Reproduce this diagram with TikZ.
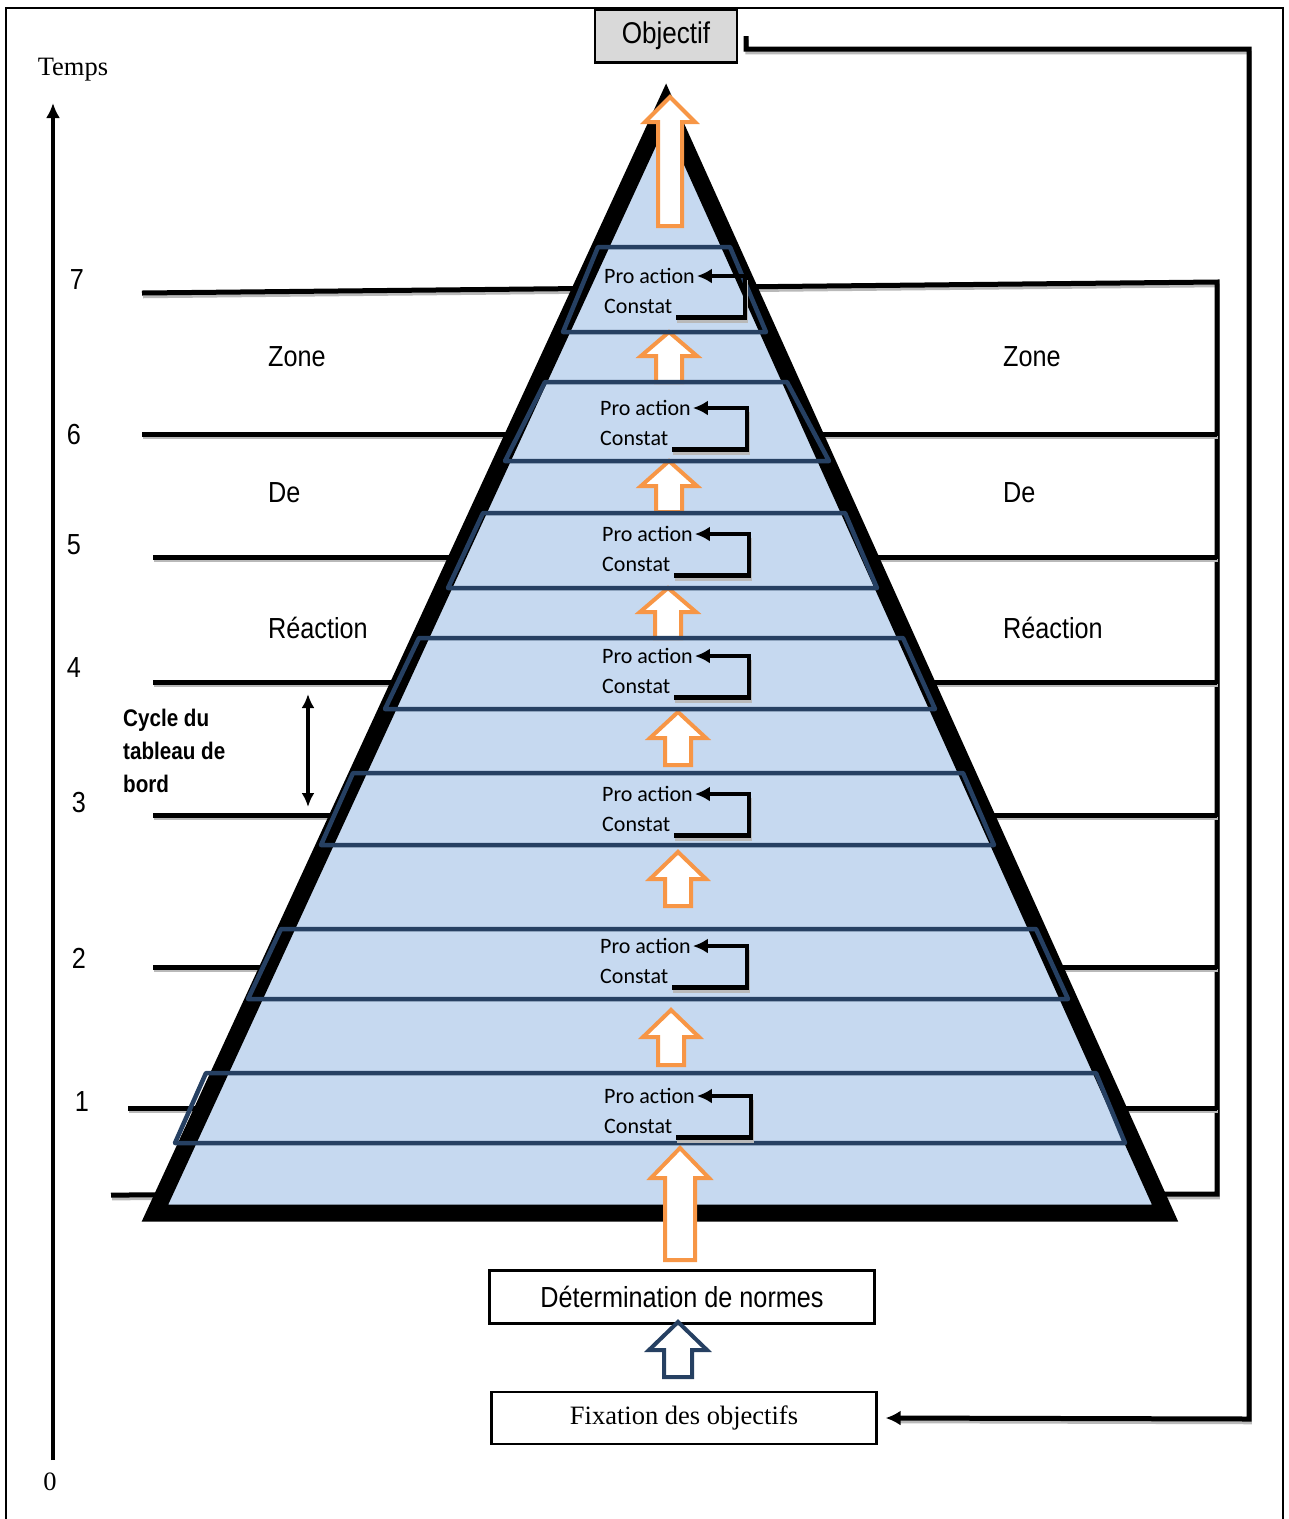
\documentclass[tikz,border=0pt]{standalone}
\usepackage{fontspec}
\setmainfont{Liberation Serif}
\newfontfamily\nsans[FakeStretch=0.87]{Liberation Sans}
\newfontfamily\nbold[FakeStretch=0.86]{Liberation Sans}
\newfontfamily\calib{Carlito}
\usetikzlibrary{arrows.meta}
\definecolor{pyrblue}{HTML}{C6D9F0}
\definecolor{bandnavy}{RGB}{38,64,98}
\definecolor{orng}{HTML}{F79646}
\definecolor{boxgray}{HTML}{D9D9D9}
\newcommand{\blockup}[7]{%
  \draw[line width=4, draw=#7, fill=white, line join=miter]
  (#1,#2) -- (#1+#5,#4) -- (#1+#6,#4) -- (#1+#6,#3) -- (#1-#6,#3) -- (#1-#6,#4) -- (#1-#5,#4) -- cycle;}
\newcommand{\shline}[1]{%
  \draw[shadowst] #1;
  \draw[lvl] #1;}
\begin{document}
\begin{tikzpicture}[x=1pt,y=-1pt,
  lvl/.style={line width=5, draw=black, line join=miter},
  shadowst/.style={line width=3.5, draw=gray!55, line join=miter, transform canvas={shift={(1pt,-3.5pt)}}},
  band/.style={line width=4.5, draw=bandnavy, line join=round},
  fb/.style={line width=4.5, draw=black, line join=miter, -{Latex[length=15pt,width=15pt]}},
  conn/.style={line width=5, draw=black, line join=miter},
  bigtxt/.style={font=\nsans\fontsize{29}{34}\selectfont, inner sep=0},
  numtxt/.style={font=\nsans\fontsize{29}{34}\selectfont, inner sep=0},
  smtxt/.style={font=\calib\fontsize{22}{26}\selectfont, inner sep=1, anchor=west},
  boxst/.style={draw=black, line width=2.2, minimum height=53, inner sep=0}
]
\useasboundingbox (0,0) rectangle (1289,1519);
% outer frame
\draw[line width=1.8] (6,1530) -- (6,8) -- (1283,8) -- (1283,1530);

% level lines (behind the pyramid)
\shline{(142,293) -- (1217,282) -- (1217,1194) -- (111,1195)}
\shline{(142,434) -- (1217,434)}
\shline{(153,557) -- (1217,557)}
\shline{(153,682) -- (1217,682)}
\shline{(153,815) -- (1217,815)}
\shline{(153,967) -- (1217,967)}
\shline{(128,1108) -- (1217,1108)}

% pyramid
\draw[line width=17, line join=miter, fill=pyrblue] (666,104) -- (155,1213) -- (1165,1213) -- cycle;

% orange block arrows
\blockup{670}{97}{226}{122}{25}{12}{orng}
\blockup{669}{332}{382}{356}{28}{13}{orng}
\blockup{669}{461}{512}{486}{28}{13}{orng}
\blockup{668}{588}{638}{612}{28}{13}{orng}
\blockup{678}{712}{765}{738}{28}{13}{orng}
\blockup{678}{852}{906}{879}{28}{13}{orng}
\blockup{671}{1010}{1065}{1037}{28}{13}{orng}
\blockup{680}{1148}{1260}{1178}{29}{15}{orng}

% bands
\draw[band] (598,247) -- (730,247) -- (766,332) -- (563,332) -- cycle;
\draw[band] (545,382) -- (787,382) -- (829,461) -- (505,461) -- cycle;
\draw[band] (483,513) -- (845,513) -- (877,588) -- (448,588) -- cycle;
\draw[band] (419,638) -- (903,638) -- (935,709) -- (385,709) -- cycle;
\draw[band] (353,773) -- (963,773) -- (994,845) -- (321,845) -- cycle;
\draw[band] (281,929) -- (1036,929) -- (1068,999) -- (248,999) -- cycle;
\draw[band] (206,1073) -- (1096,1073) -- (1125,1143) -- (175,1143) -- cycle;

% texts and feedback loops in bands
\foreach \i/\lx/\py/\cy/\rx in {1/604/276/306/745, 2/600/408/438/747, 3/602/534/564/749, 4/602/656/686/749, 5/602/794/824/749, 6/600/946/976/747, 7/604/1096/1126/751}{
  \node[smtxt] (pa\i) at (\lx-1,\py) {Pro action};
  \node[smtxt] (ct\i) at (\lx-1,\cy) {Constat};
  \draw[shadowst] ([xshift=3pt,yshift=-3pt]ct\i.south east) -| (\rx,\py);
  \draw[fb] ([xshift=3pt,yshift=-3pt]ct\i.south east) -| (\rx,\py) -- ([xshift=1pt]pa\i.east);
}

% zone labels
\node[bigtxt, anchor=west] (zl1) at (268,357) {Zone};
\node[bigtxt, anchor=west] (zl2) at (268,493) {De};
\node[bigtxt, anchor=west] (zl3) at (268,628) {Réaction};
\node[bigtxt, anchor=west] (zr1) at (1003,357) {Zone};
\node[bigtxt, anchor=west] (zr2) at (1003,493) {De};
\node[bigtxt, anchor=west] (zr3) at (1003,628) {Réaction};

% boxes
\node[boxst, fill=boxgray, minimum width=142, font=\nsans\fontsize{30}{34}\selectfont] (obj) at (666,36) {Objectif};
\node[boxst, minimum width=385, font=\nsans\fontsize{29}{34}\selectfont] (det) at (682,1297) {Détermination de normes};
\node[boxst, minimum width=385, minimum height=52, font=\fontsize{26.5}{30}\selectfont] (fix) at (684,1418) {Fixation des objectifs};
\blockup{678}{1322}{1377}{1350}{29}{14}{bandnavy}

% feedback from objective to fixation
\draw[shadowst] ([xshift=8pt]obj.east) -- ++(0,13) -| (1249,1419) -- ([xshift=20pt]fix.east);
\draw[conn, -{Latex[length=15pt,width=15pt]}] ([xshift=8pt]obj.east) -- ++(0,13) -| (1249,1419) -- ([xshift=8pt]fix.east);

% time axis
\coordinate (t0) at (53,1460);
\coordinate (tt) at (53,103);
\draw[line width=4.5, -{Latex[length=15pt,width=14pt]}] (t0) -- (tt);
\node[font=\fontsize{26.5}{30}\selectfont, inner sep=0] (temps) at (73,70) {Temps};
\node[font=\fontsize{26.5}{30}\selectfont, inner sep=0] (n0) at (50,1482) {0};
\node[numtxt] (n7) at (77,280) {7};
\node[numtxt] (n6) at (74,435) {6};
\node[numtxt] (n5) at (74,545) {5};
\node[numtxt] (n4) at (74,668) {4};
\node[numtxt] (n3) at (79,803) {3};
\node[numtxt] (n2) at (79,958) {2};
\node[numtxt] (n1) at (82,1102) {1};

% cycle
\coordinate (cyA) at (308,694);
\coordinate (cyB) at (308,807);
\draw[line width=4, {Latex[length=14pt,width=13pt]}-{Latex[length=14pt,width=13pt]}] (cyA) -- (cyB);
\node[anchor=west, align=left, inner sep=0, font=\nbold\bfseries\fontsize{24}{33}\selectfont] (cyc) at (123,751) {Cycle du\\tableau de\\bord};
\end{tikzpicture}
\end{document}
